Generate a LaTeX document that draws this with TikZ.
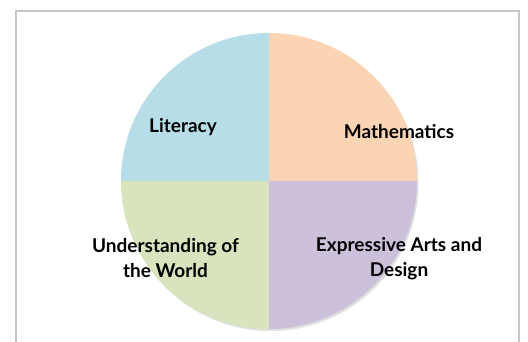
\documentclass[tikz,border=0pt]{standalone}
\usepackage{fontspec}
\setmainfont{Lato}
\usetikzlibrary{calc}
\definecolor{litBlue}{HTML}{B7DEE8}
\definecolor{mathPeach}{HTML}{FBD4B4}
\definecolor{worldGreen}{HTML}{D7E4BD}
\definecolor{artsLilac}{HTML}{CCC0DA}
% one quarter of the pie: colour, start angle, end angle
\newcommand{\pieSlice}[3]{\fill[#1] (c) -- ++(#2:148) arc[start angle=#2, end angle=#3, radius=148] -- cycle;}

\begin{document}
\begin{tikzpicture}[x=1pt,y=1pt,
  subject/.style={font=\bfseries\fontsize{19}{25}\selectfont, align=center, text=black}]

      \useasboundingbox (0,0) rectangle (528,342);

      % grey frame, its bottom edge runs off the page
      \draw[black!22, line width=2pt] (15.5,-5) -- (15.5,330.5) -- (519,330.5) -- (519,-5);

      % pie centre
      \coordinate (c) at (269,161);

      % faint shadow under the pie
      \fill[black!12] ($(c)+(1.5,-2)$) circle (148);

      % the four quarters
      \pieSlice{litBlue}{90}{180}
      \pieSlice{mathPeach}{0}{90}
      \pieSlice{worldGreen}{180}{270}
      \pieSlice{artsLilac}{270}{360}

      % labels
      \node[subject] (literacy) at (183,215) {Literacy};
      \node[subject] (maths) at (399,210) {Mathematics};
      \node[subject] (world) at (165.5,83.5) {Understanding of\\the World};
      \node[subject] (arts) at (399,83.5) {Expressive Arts and\\Design};

\end{tikzpicture}
\end{document}
